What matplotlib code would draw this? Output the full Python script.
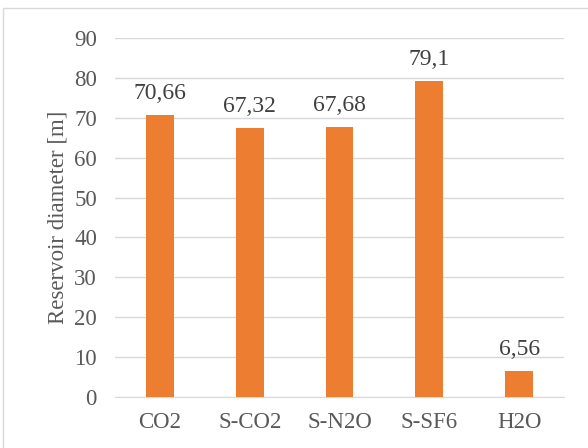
import matplotlib.pyplot as plt
from matplotlib.patches import Rectangle

fluids = ["CO2", "S-CO2", "S-N2O", "S-SF6", "H2O"]
diameters = [70.66, 67.32, 67.68, 79.1, 6.56]
value_labels = ["70,66", "67,32", "67,68", "79,1", "6,56"]

plt.rcParams["font.family"] = ["Liberation Serif", "DejaVu Serif"]

fig = plt.figure(figsize=(5.88, 4.48), dpi=100)
ax = fig.add_axes([0.1956, 0.1138, 0.7636, 0.8014])

x = range(len(fluids))
bars = ax.bar(x, diameters, width=0.31, color="#ED7D31", zorder=3)

for b, lab in zip(bars, value_labels):
    ax.annotate(lab, (b.get_x() + b.get_width() / 2, b.get_height()),
                xytext=(0, 8), textcoords="offset points",
                ha="center", va="bottom", fontsize=17, color="#404040")

ax.set_ylim(0, 90)
ax.set_yticks(range(0, 91, 10))
ax.set_xlim(-0.5, len(fluids) - 0.5)
ax.set_xticks(list(x))
ax.set_xticklabels(fluids)
ax.yaxis.grid(True, color="#D9D9D9", linewidth=1, zorder=0)
ax.tick_params(length=0, labelsize=16.5, labelcolor="#595959")
ax.tick_params(axis="y", pad=13)
ax.tick_params(axis="x", pad=11)
for side in ["left", "right", "top"]:
    ax.spines[side].set_visible(False)
ax.spines["bottom"].set_color("#D9D9D9")
ax.set_ylabel("Reservoir diameter [m]", fontsize=16.5, color="#595959", labelpad=4)

# light chart-area frame
fig.patches.append(Rectangle((3 / 588, -0.1), 1.1, 1 - 8 / 448 + 0.1,
                             transform=fig.transFigure, fill=False,
                             edgecolor="#D9D9D9", linewidth=1))

fig.savefig("out.png", dpi=100)
